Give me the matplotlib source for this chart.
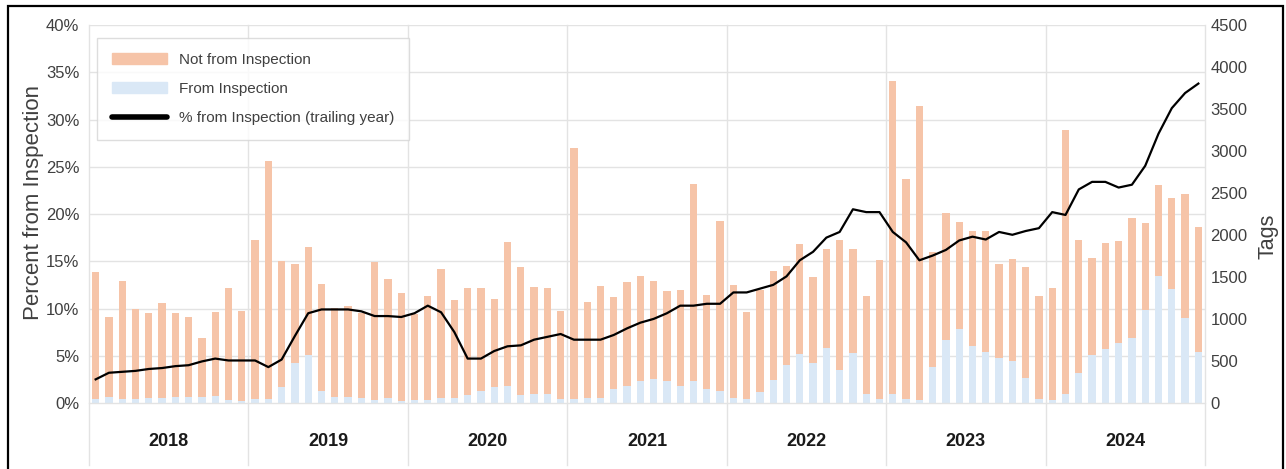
import matplotlib
matplotlib.use("Agg")
import matplotlib.pyplot as plt
import numpy as np
from matplotlib.patches import Patch, Rectangle
from matplotlib.lines import Line2D
from matplotlib.ticker import PercentFormatter

plt.rcParams['font.family'] = ['Liberation Sans', 'DejaVu Sans']

years = ['2018', '2019', '2020', '2021', '2022', '2023', '2024']

# monthly tags, Jan 2018 .. Dec 2024
total_tags = [1559, 1020, 1448, 1123, 1075, 1194, 1075, 1020, 774, 1083, 1369, 1091,
              1936, 2876, 1686, 1658, 1853, 1420, 1131, 1158, 1071, 1674, 1476, 1309,
              1059, 1277, 1591, 1226, 1365, 1365, 1234, 1920, 1622, 1384, 1365, 1095,
              3035, 1198, 1392, 1265, 1436, 1511, 1456, 1329, 1345, 2606, 1289, 2162,
              1408, 1087, 1345, 1575, 1634, 1892, 1500, 1837, 1940, 1837, 1277, 1702,
              3832, 2662, 3539, 1801, 2265, 2158, 2047, 2047, 1654, 1718, 1619, 1273,
              1373, 3249, 1940, 1730, 1908, 1928, 2206, 2142, 2590, 2444, 2487, 2095]
from_insp = [48, 67, 48, 52, 60, 63, 71, 71, 67, 79, 40, 20,
             52, 48, 190, 476, 575, 147, 67, 67, 60, 40, 60, 28,
             36, 36, 56, 63, 95, 147, 190, 202, 91, 107, 111, 48,
             48, 56, 63, 171, 206, 266, 286, 266, 202, 258, 171, 147,
             63, 48, 127, 274, 452, 579, 480, 659, 393, 599, 107, 48,
             107, 48, 40, 432, 750, 877, 679, 603, 539, 504, 301, 48,
             40, 103, 361, 571, 643, 710, 778, 1107, 1511, 1353, 1016, 603]
# trailing-year share from inspection, percent
pct_trailing = [2.5, 3.2, 3.3, 3.4, 3.6, 3.7, 3.9, 4.0, 4.4, 4.7, 4.5, 4.5,
                4.5, 3.8, 4.6, 7.1, 9.5, 9.9, 9.9, 9.9, 9.7, 9.2, 9.2, 9.1,
                9.5, 10.3, 9.6, 7.5, 4.7, 4.7, 5.5, 6.0, 6.1, 6.7, 7.0, 7.3,
                6.7, 6.7, 6.7, 7.2, 7.9, 8.5, 8.9, 9.5, 10.3, 10.3, 10.5, 10.5,
                11.7, 11.7, 12.1, 12.5, 13.4, 15.1, 16.0, 17.5, 18.1, 20.5, 20.2, 20.2,
                18.1, 17.0, 15.1, 15.6, 16.2, 17.2, 17.6, 17.3, 18.1, 17.8, 18.2, 18.5,
                20.2, 19.9, 22.6, 23.4, 23.4, 22.8, 23.1, 25.1, 28.5, 31.2, 32.8, 33.8]

not_insp = [t - f for t, f in zip(total_tags, from_insp)]
x = np.arange(len(total_tags))

peach = '#F6C4A8'
blue = '#DAE8F6'
grid_c = '#E3E3E3'
txt_c = '#404040'

fig = plt.figure(figsize=(12.86, 4.69), dpi=100)
ax = fig.add_axes([89/1286, 1-403/469, (1205-89)/1286, (403-25)/469])
ax2 = ax.twinx()

# gridlines follow the percent ticks but sit behind the bars
for p in np.arange(5, 41, 5):
    ax2.axhline(p / 40 * 4500, color=grid_c, lw=1, zorder=0)

# bars on the right (Tags) axis
ax2.bar(x, from_insp, width=0.55, color=blue, zorder=2)
ax2.bar(x, not_insp, width=0.55, bottom=from_insp, color=peach, zorder=2)
ax2.set_ylim(0, 4500)
ax2.set_yticks(np.arange(0, 4501, 500))
ax2.set_ylabel('Tags', fontsize=15.5, color=txt_c)
ax2.yaxis.set_label_coords(1.047, 0.44)

# line on the left (percent) axis, drawn above the bars
ax.set_zorder(ax2.get_zorder() + 1)
ax.patch.set_visible(False)
ax.plot(x, pct_trailing, color='black', lw=1.6, zorder=5)
ax.set_ylim(0, 40)
ax.set_yticks(np.arange(0, 41, 5))
ax.yaxis.set_major_formatter(PercentFormatter(decimals=0))
ax.set_ylabel('Percent from Inspection', fontsize=16, color=txt_c)
ax.yaxis.set_label_coords(-0.040, 0.53)
ax.set_xlim(-0.5, len(x) - 0.5)
ax.set_xticks([])

for a in (ax, ax2):
    a.tick_params(axis='y', length=0, labelsize=12, labelcolor=txt_c, pad=4)
    for s in a.spines.values():
        s.set_visible(False)
ax.tick_params(axis='y', pad=7)

# year category band under the axis
for b in np.arange(-0.5, len(x), 12):
    ax.plot([b, b], [1, -0.164], transform=ax.get_xaxis_transform(),
            color=grid_c, lw=1, clip_on=False, zorder=0)
ax.plot([-0.5, len(x) - 0.5], [0, 0], transform=ax.get_xaxis_transform(),
        color=grid_c, lw=1, clip_on=False)
for i, y in enumerate(years):
    ax.text(i * 12 + 5.5, -0.102, y, transform=ax.get_xaxis_transform(),
            ha='center', va='center', fontsize=13, fontweight='bold', color='#1a1a1a')

handles = [Patch(color=peach, label='Not from Inspection'),
           Patch(color=blue, label='From Inspection'),
           Line2D([], [], color='black', lw=4, solid_capstyle='round',
                  label='% from Inspection (trailing year)')]
leg = ax.legend(handles=handles, loc='upper left', bbox_to_anchor=(8/1116, 1-13/378),
                borderaxespad=0, fontsize=11, frameon=True, fancybox=False,
                edgecolor='#D5D5D5', handlelength=3.6, handletextpad=0.8,
                labelspacing=1.0, borderpad=0.95)
leg.get_frame().set_linewidth(1)
for t in leg.get_texts():
    t.set_color(txt_c)

# screenshot frame
fig.add_artist(Rectangle((8/1286, -0.1), (1283-8)/1286, 1.1 - 6/469,
                         transform=fig.transFigure, fill=False, ec='black', lw=1.6))

fig.savefig('out.png', dpi=100)
